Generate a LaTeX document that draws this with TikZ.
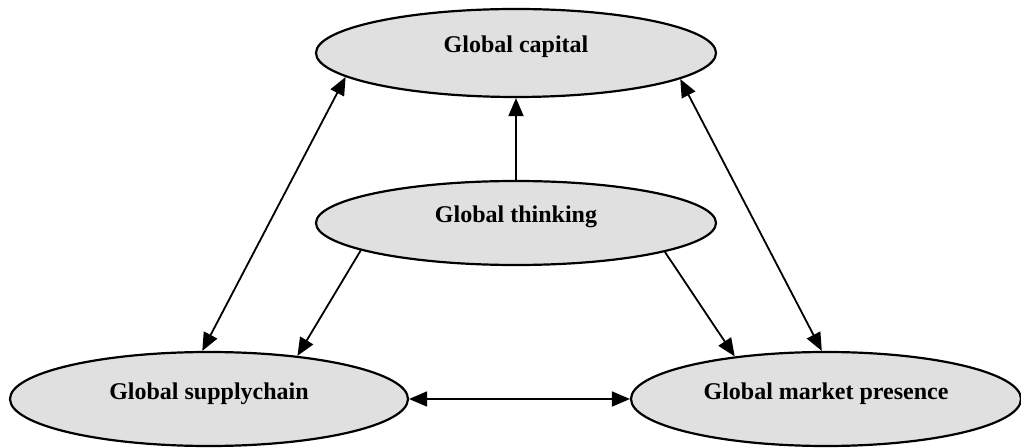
\documentclass[tikz,border=0pt]{standalone}
\usepackage{fontspec}
\setmainfont{Liberation Serif}
\usetikzlibrary{shapes.geometric, arrows.meta}
\definecolor{ovalgray}{HTML}{E0E0E0}
\tikzset{
  oval/.style = {ellipse, draw, line width = 1.1pt, fill = ovalgray, inner sep = 0,
    font = \bfseries\fontsize{12pt}{14pt}\selectfont, text height = 8pt, text depth = 8pt},
  link/.style = {line width = .9pt, -{Triangle[length = 9pt, width = 7.5pt]}},
  twoway/.style = {line width = .9pt, {Triangle[length = 9pt, width = 7.5pt]}-{Triangle[length = 9pt, width = 7.5pt]}}
}
\begin{document}
\begin{tikzpicture}[x = .5pt, y = -.5pt]
\useasboundingbox (0, 0) rectangle (1021, 448);

\node [oval, minimum width = 200pt, minimum height = 44pt] (cap) at (516, 53) {Global capital};
\node [oval, minimum width = 200pt, minimum height = 42pt] (think) at (516, 223) {Global thinking};
\node [oval, minimum width = 199pt, minimum height = 47pt] (supply) at (209, 399) {Global supplychain};
\node [oval, minimum width = 195pt, minimum height = 47pt] (market) at (826, 399) {Global market presence};

\draw [link] (think.north) -- (cap.south);
\draw [link] (think.190) -- (supply.26);
\draw [link] (think.349) -- (market.155);

\draw [twoway] (supply.98) -- (cap.188);
\draw [twoway] (market.95) -- (cap.351);
\draw [twoway] (supply.east) -- (market.west);

\end{tikzpicture}
\end{document}
